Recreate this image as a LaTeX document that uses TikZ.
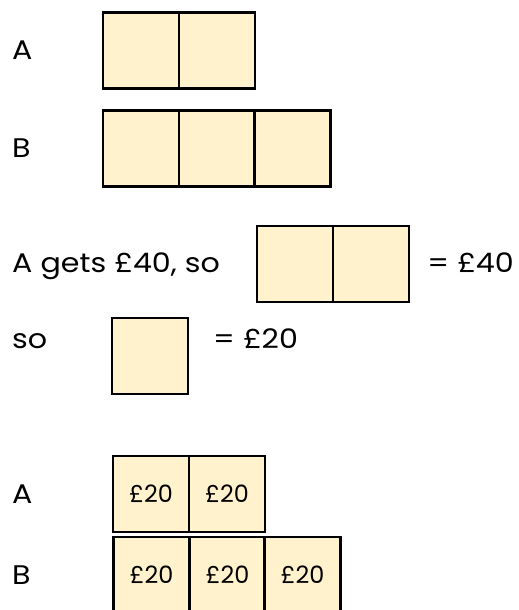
\documentclass[tikz,border=0pt]{standalone}
\usepackage{fontspec}
\setmainfont{Poppins}
\newfontfamily\widefont[FakeStretch=1.12]{Poppins}
\definecolor{cellfill}{HTML}{FFF2CC}
\begin{document}
\begin{tikzpicture}[x=1bp,y=-1bp,
  cell/.style={draw=black, fill=cellfill, line width=2.5bp, minimum width=76bp,
    minimum height=76bp, inner sep=0pt, font=\fontsize{24}{28}\selectfont},
  lbl/.style={anchor=base west, inner sep=0pt, font=\widefont\fontsize{27}{32}\selectfont}]
\useasboundingbox (0,0) rectangle (519,610);
% first bar model
\node[lbl] (la1) at (12,60) {A};
\node[lbl] (lb1) at (12,158) {B};
\node[cell] (a11) at (141,50.5) {};
\node[cell] (a12) at (217,50.5) {};
\node[cell] (b11) at (141,148.5) {};
\node[cell] (b12) at (217,148.5) {};
\node[cell] (b13) at (292.5,148.5) {};
% working
\node[lbl] (t1) at (12,272) {A gets £40, so};
\node[cell] (w1) at (295,264) {};
\node[cell] (w2) at (371,264) {};
\node[lbl, anchor=base east] (e1) at (514,272) {= £40};
\node[lbl] (t2) at (12,348) {so};
\node[cell] (u1) at (150,356) {};
\node[lbl] (e2) at (213,348) {= £20};
% completed bar model
\node[lbl] (la2) at (12,503) {A};
\node[lbl] (lb2) at (12,584) {B};
\node[cell] (a21) at (151,494) {£20};
\node[cell] (a22) at (227,494) {£20};
\node[cell] (b21) at (151.5,575) {£20};
\node[cell] (b22) at (227.5,575) {£20};
\node[cell] (b23) at (302.5,575) {£20};
\end{tikzpicture}
\end{document}
